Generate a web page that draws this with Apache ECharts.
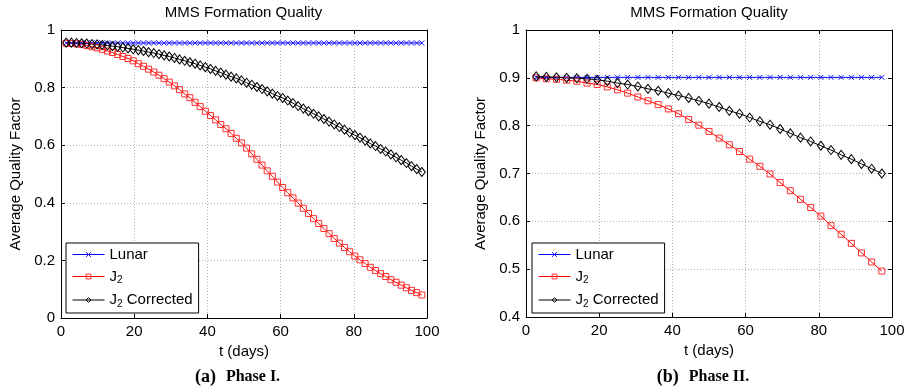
<!DOCTYPE html>
<html>
<head>
<meta charset="utf-8">
<script src="https://cdn.jsdelivr.net/npm/echarts@6/dist/echarts.min.js"></script>
<style>
html,body{margin:0;padding:0;background:#fff;}
#wrap{position:relative;width:911px;height:390px;}
#ca{position:absolute;left:0;top:0;width:455px;height:390px;}
#cb{position:absolute;left:455px;top:0;width:456px;height:390px;}
</style>
</head>
<body>
<div id="wrap"><div id="ca"></div><div id="cb"></div></div>
<script>
// ---------- Phase I (a) ----------
const tPhase1 = [1.41,2.82,4.23,5.63,7.04,8.45,9.86,11.27,12.68,14.08,15.49,16.90,18.31,19.72,21.13,22.54,23.94,25.35,26.76,28.17,29.58,30.99,32.39,33.80,35.21,36.62,38.03,39.44,40.85,42.25,43.66,45.07,46.48,47.89,49.30,50.70,52.11,53.52,54.93,56.34,57.75,59.15,60.56,61.97,63.38,64.79,66.20,67.61,69.01,70.42,71.83,73.24,74.65,76.06,77.46,78.87,80.28,81.69,83.10,84.51,85.92,87.32,88.73,90.14,91.55,92.96,94.37,95.77,97.18,98.59];
const lunar1 = [0.955,0.955,0.955,0.955,0.955,0.955,0.955,0.955,0.955,0.955,0.955,0.955,0.955,0.955,0.955,0.955,0.955,0.955,0.955,0.955,0.955,0.955,0.955,0.955,0.955,0.955,0.955,0.955,0.955,0.955,0.955,0.955,0.955,0.955,0.955,0.955,0.955,0.955,0.955,0.955,0.955,0.955,0.955,0.955,0.955,0.955,0.955,0.955,0.955,0.955,0.955,0.955,0.955,0.955,0.955,0.955,0.955,0.955,0.955,0.955,0.955,0.955,0.955,0.955,0.955,0.955,0.955,0.955,0.955,0.955];
const j2_1 = [0.954,0.953,0.952,0.950,0.946,0.942,0.938,0.933,0.927,0.922,0.915,0.908,0.901,0.893,0.883,0.874,0.864,0.854,0.843,0.831,0.819,0.806,0.793,0.778,0.765,0.749,0.734,0.718,0.703,0.688,0.672,0.657,0.641,0.624,0.608,0.590,0.570,0.551,0.531,0.511,0.492,0.472,0.453,0.435,0.417,0.399,0.381,0.363,0.345,0.328,0.311,0.293,0.276,0.260,0.245,0.230,0.215,0.202,0.189,0.176,0.165,0.154,0.144,0.133,0.124,0.114,0.105,0.096,0.088,0.080];
const j2c_1 = [0.956,0.956,0.955,0.954,0.953,0.951,0.950,0.948,0.946,0.944,0.942,0.939,0.936,0.933,0.930,0.927,0.923,0.920,0.916,0.912,0.908,0.903,0.898,0.893,0.888,0.883,0.877,0.871,0.865,0.858,0.852,0.845,0.838,0.832,0.825,0.817,0.810,0.802,0.795,0.787,0.779,0.771,0.764,0.755,0.746,0.736,0.727,0.718,0.709,0.700,0.691,0.682,0.672,0.663,0.654,0.644,0.635,0.626,0.616,0.606,0.597,0.587,0.578,0.568,0.558,0.548,0.538,0.527,0.517,0.507];

// ---------- Phase II (b) ----------
const tPhase2 = [2.78,5.56,8.33,11.11,13.89,16.67,19.44,22.22,25.00,27.78,30.56,33.33,36.11,38.89,41.67,44.44,47.22,50.00,52.78,55.56,58.33,61.11,63.89,66.67,69.44,72.22,75.00,77.78,80.56,83.33,86.11,88.89,91.67,94.44,97.22];
const lunar2 = [0.901,0.901,0.901,0.901,0.901,0.901,0.901,0.901,0.901,0.901,0.901,0.901,0.901,0.901,0.901,0.901,0.901,0.901,0.901,0.901,0.901,0.901,0.901,0.901,0.901,0.901,0.901,0.901,0.901,0.901,0.901,0.901,0.901,0.901,0.901];
const j2_2 = [0.900,0.898,0.897,0.895,0.893,0.889,0.886,0.881,0.875,0.868,0.860,0.852,0.844,0.835,0.825,0.813,0.801,0.788,0.774,0.760,0.746,0.730,0.715,0.699,0.681,0.664,0.646,0.629,0.611,0.591,0.573,0.554,0.534,0.515,0.496];
const j2c_2 = [0.903,0.902,0.901,0.900,0.899,0.898,0.896,0.893,0.889,0.886,0.882,0.877,0.873,0.868,0.863,0.858,0.852,0.846,0.839,0.831,0.825,0.817,0.809,0.802,0.793,0.784,0.775,0.767,0.758,0.749,0.739,0.730,0.720,0.710,0.700];

// ---------- text ----------
const seriesNames = ['Lunar', 'J2', 'J2 Corrected'];
const plotTitle = 'MMS Formation Quality';
const xName = 't (days)';
const yName = 'Average Quality Factor';
const captions = [['(a)', 'Phase I.'], ['(b)', 'Phase II.']];

const SANS = 'Liberation Sans, Arial, sans-serif';
const SERIF = 'Liberation Serif, Times New Roman, serif';

const seriesColors = {
  'Lunar': {line: '#0000ff', mark: '#2020ff'},
  'J2': {line: '#ff0000', mark: '#ff3030'},
  'J2 Corrected': {line: '#000000', mark: '#000000'}
};
const symbols = {
  'Lunar': {symbol: 'path://M0,0L10,10M10,0L0,10', symbolSize: 5},
  'J2': {symbol: 'rect', symbolSize: 6},
  'J2 Corrected': {symbol: 'diamond', symbolSize: [7, 9]}
};

function zip(xs, ys) { return xs.map((x, i) => [x, ys[i]]); }

function buildOption(grid, yRange, t, ys, caption) {
  const base = {
    type: 'value', min: 0, max: 100, interval: 20,
    axisLine: {show: true, onZero: false, lineStyle: {color: '#000', width: 1}},
    axisTick: {show: true, inside: true, length: 4, lineStyle: {color: '#000'}}
  };
  const split = {show: true, lineStyle: {type: [1, 2], color: '#b0b0b0', width: 1}};
  const lbl = {fontSize: 15, color: '#000', fontFamily: SANS, margin: 6};
  const nameStyle = {fontSize: 15, color: '#000', fontFamily: SANS};
  const yb = Object.assign({}, base, yRange);
  const series = seriesNames.map((n, i) => ({
    name: n, type: 'line', data: zip(t, ys[i]),
    showAllSymbol: true, animation: false, emphasis: {disabled: true},
    symbol: symbols[n].symbol, symbolSize: symbols[n].symbolSize,
    itemStyle: {color: 'rgba(0,0,0,0)', borderColor: seriesColors[n].mark, borderWidth: 1},
    lineStyle: {color: seriesColors[n].line, width: 1}
  }));
  return {
    animation: false,
    backgroundColor: '#fff',
    title: [{
      text: plotTitle, left: grid.left + grid.width / 2, top: 5, textAlign: 'center', padding: 0,
      textStyle: {fontSize: 15, fontWeight: 'normal', color: '#000', fontFamily: SANS}
    }, {
      text: '{a|' + caption[0] + '}  {b|' + caption[1] + '}',
      left: grid.left + grid.width / 2 - 6, top: 368, textAlign: 'center', padding: 0,
      textStyle: {rich: {
        a: {fontSize: 18, fontWeight: 'bold', fontFamily: SERIF, color: '#000'},
        b: {fontSize: 16, fontWeight: 'bold', fontFamily: SERIF, color: '#000'}
      }}
    }],
    grid: grid,
    xAxis: [
      Object.assign({}, base, {position: 'bottom', axisLabel: lbl, splitLine: split,
        name: xName, nameLocation: 'middle', nameGap: 20, nameTextStyle: nameStyle}),
      Object.assign({}, base, {position: 'top', axisLabel: {show: false}, splitLine: {show: false}})
    ],
    yAxis: [
      Object.assign({}, yb, {position: 'left', axisLabel: lbl, splitLine: split,
        name: yName, nameLocation: 'middle', nameGap: 38, nameTextStyle: nameStyle}),
      Object.assign({}, yb, {position: 'right', axisLabel: {show: false}, splitLine: {show: false}})
    ],
    legend: {
      data: seriesNames, orient: 'vertical',
      left: grid.left + 6, bottom: 77,
      backgroundColor: '#fff', borderColor: '#000', borderWidth: 1,
      padding: [4, 6, 4, 6], itemGap: 7, itemWidth: 32, itemHeight: 6,
      selectedMode: false,
      itemStyle: {color: 'rgba(0,0,0,0)', borderWidth: 1},
      lineStyle: {width: 1},
      formatter: function (n) {
        if (n === 'Lunar') return '{m|Lunar}';
        if (n === 'J2') return '{m|J}{s|2}';
        return '{m|J}{s|2}{m| Corrected}';
      },
      textStyle: {rich: {
        m: {fontSize: 15, fontFamily: SANS, color: '#000', lineHeight: 18, verticalAlign: 'middle'},
        s: {fontSize: 10, fontFamily: SANS, color: '#000', lineHeight: 10, verticalAlign: 'bottom'}
      }}
    },
    series: series
  };
}

const chartA = echarts.init(document.getElementById('ca'), null, {renderer: 'canvas'});
chartA.setOption(buildOption(
  {left: 60, top: 30, width: 367, height: 288},
  {min: 0, max: 1, interval: 0.2},
  tPhase1, [lunar1, j2_1, j2c_1], captions[0]));

const chartB = echarts.init(document.getElementById('cb'), null, {renderer: 'canvas'});
chartB.setOption(buildOption(
  {left: 71, top: 30, width: 366, height: 287},
  {min: 0.4, max: 1, interval: 0.1},
  tPhase2, [lunar2, j2_2, j2c_2], captions[1]));
</script>
</body>
</html>
